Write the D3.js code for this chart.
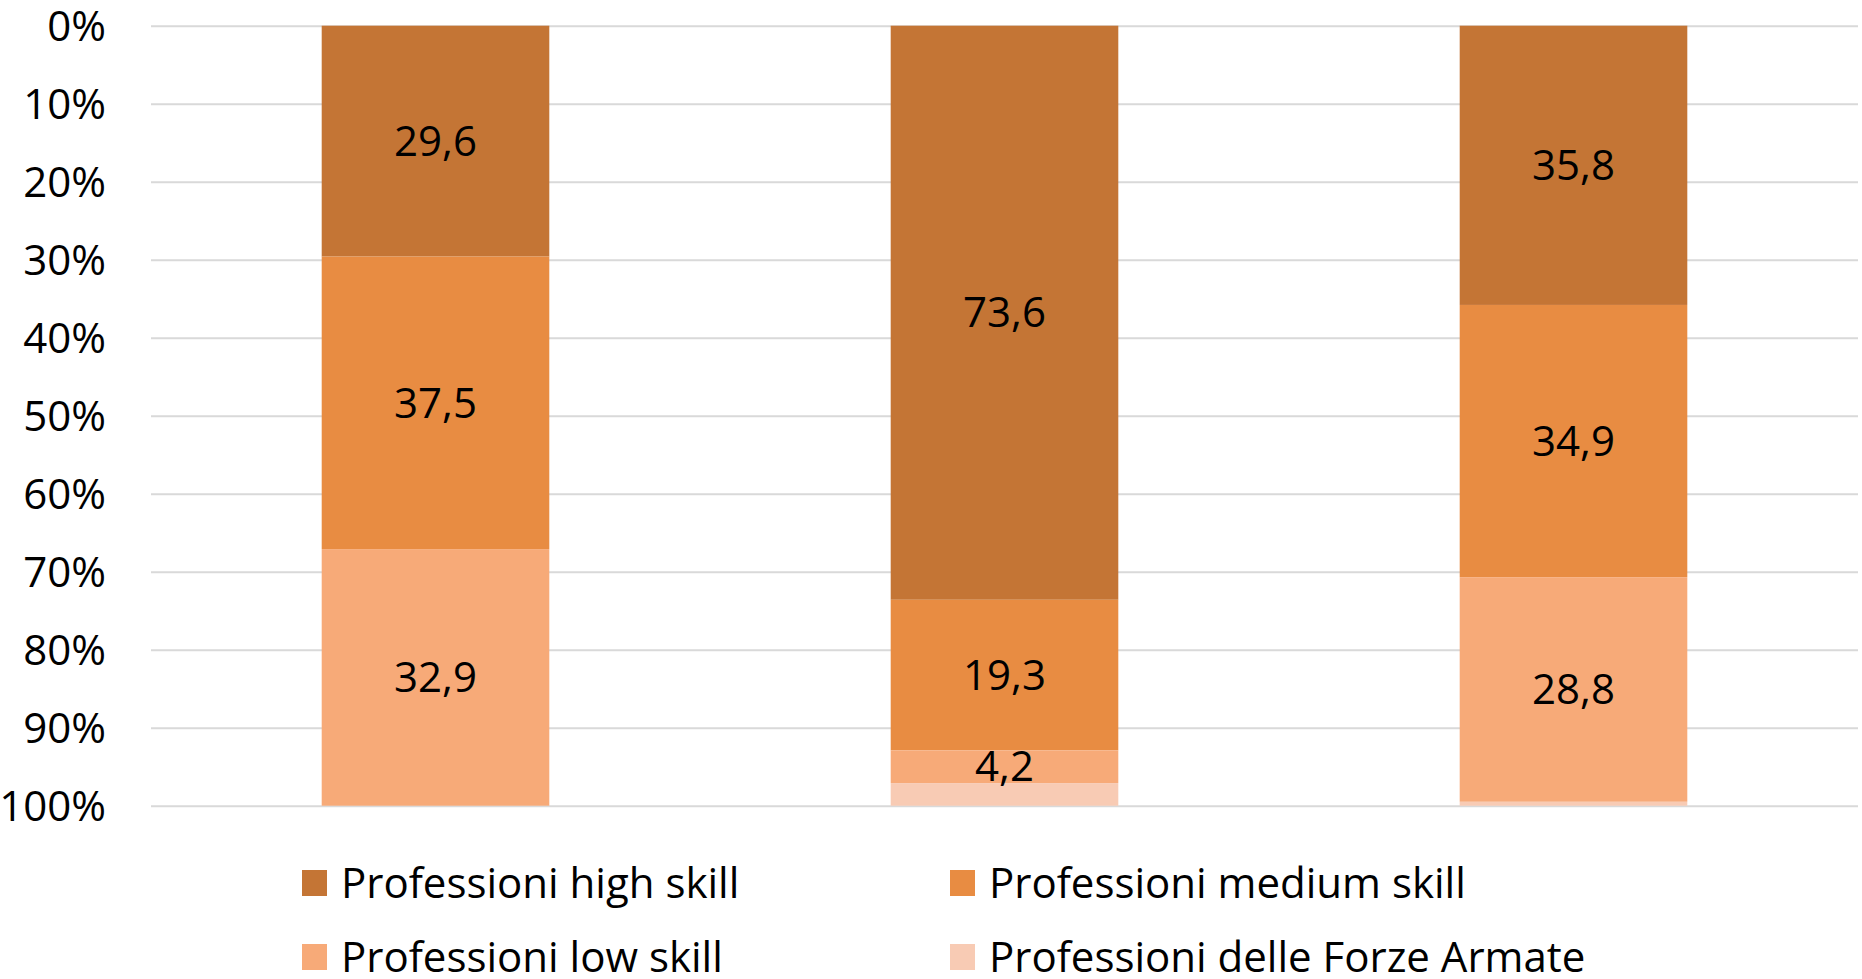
<!DOCTYPE html>
<html>
<head>
<meta charset="utf-8">
<script src="https://cdn.jsdelivr.net/npm/d3@7"></script>
<style>
  html, body { margin: 0; padding: 0; background: #fff; }
  svg { display: block; font-family: "Open Sans", Lato, sans-serif; }
</style>
</head>
<body>
<svg id="chart" width="1862" height="979"></svg>
<script>
// Stacked 100% columns, three groups, stacked from the top of the axis down
const categories = ["Gruppo 1", "Gruppo 2", "Gruppo 3"];
const seriesNames = [
  "Professioni high skill",
  "Professioni medium skill",
  "Professioni low skill",
  "Professioni delle Forze Armate"
];
const highSkill   = [29.6, 73.6, 35.8];
const mediumSkill = [37.5, 19.3, 34.9];
const lowSkill    = [32.9, 4.2, 28.8];
const forzeArmate = [0.0, 2.9, 0.5];
const seriesColors = ["#C47535", "#E88C42", "#F7AA78", "#F8CBB4"];
const labelledSeries = [true, true, true, false];
const tickValues = [0, 10, 20, 30, 40, 50, 60, 70, 80, 90, 100];

const seriesValues = [highSkill, mediumSkill, lowSkill, forzeArmate];
const FONT = "'Open Sans', Lato, sans-serif";
const FONT_SIZE = "42px";

const svg = d3.select("#chart");
const plot = { left: 151, right: 1858, top: 25.7, bottom: 805.7 };

const x = d3.scaleBand()
  .domain(categories)
  .range([plot.left, plot.right])
  .paddingInner(0.6)
  .paddingOuter(0.3);

// 0% at the top, 100% at the bottom
const y = d3.scaleLinear().domain([0, 100]).range([plot.top, plot.bottom]);

const it = d3.formatLocale({ decimal: ",", thousands: ".", grouping: [3], currency: ["€", ""] });
const fmt = it.format(".1f");

// gridlines
svg.append("g")
  .attr("transform", `translate(${plot.left},0)`)
  .call(d3.axisLeft(y).tickValues(tickValues).tickSize(-(plot.right - plot.left)).tickFormat(""))
  .call(g => g.select(".domain").remove())
  .call(g => g.selectAll("line").attr("stroke", "#D9D9D9").attr("stroke-width", 2));

// y tick labels
svg.append("g")
  .attr("transform", `translate(106,0)`)
  .call(d3.axisLeft(y).tickValues(tickValues).tickSize(0).tickPadding(0).tickFormat(d => d + "%"))
  .call(g => g.select(".domain").remove())
  .call(g => g.selectAll("text")
    .attr("fill", "#000")
    .attr("dy", "0.35em")
    .style("font-size", FONT_SIZE)
    .style("font-family", FONT));

// stack the series
const rows = categories.map((c, i) => {
  const r = { category: c };
  seriesNames.forEach((s, k) => { r[s] = seriesValues[k][i]; });
  return r;
});
const stacked = d3.stack().keys(seriesNames)(rows);

const layers = svg.append("g").selectAll("g")
  .data(stacked)
  .join("g")
  .attr("fill", (d, k) => seriesColors[k]);

layers.selectAll("rect")
  .data(d => d)
  .join("rect")
  .attr("x", d => x(d.data.category))
  .attr("width", x.bandwidth())
  .attr("y", d => y(d[0]))
  .attr("height", d => Math.max(0, y(d[1]) - y(d[0])));

// value labels in the middle of each segment
stacked.forEach((layer, k) => {
  if (!labelledSeries[k]) return;
  svg.append("g").selectAll("text")
    .data(layer)
    .join("text")
    .attr("x", d => x(d.data.category) + x.bandwidth() / 2)
    .attr("y", d => y((d[0] + d[1]) / 2))
    .attr("dy", "0.35em")
    .attr("text-anchor", "middle")
    .attr("fill", "#000")
    .style("font-size", FONT_SIZE)
    .text(d => fmt(d[1] - d[0]));
});

// legend, two columns by two rows
const legendPos = [
  { x: 302, y: 883 }, { x: 950, y: 883 },
  { x: 302, y: 957 }, { x: 950, y: 957 }
];
const legend = svg.append("g").selectAll("g")
  .data(seriesNames)
  .join("g")
  .attr("transform", (d, k) => `translate(${legendPos[k].x},${legendPos[k].y})`);
legend.append("rect")
  .attr("x", 0).attr("y", -13)
  .attr("width", 25).attr("height", 26)
  .attr("fill", (d, k) => seriesColors[k]);
legend.append("text")
  .attr("x", 39).attr("y", 0)
  .attr("dy", "0.35em")
  .attr("fill", "#000")
  .style("font-size", FONT_SIZE)
  .text(d => d);
</script>
</body>
</html>
